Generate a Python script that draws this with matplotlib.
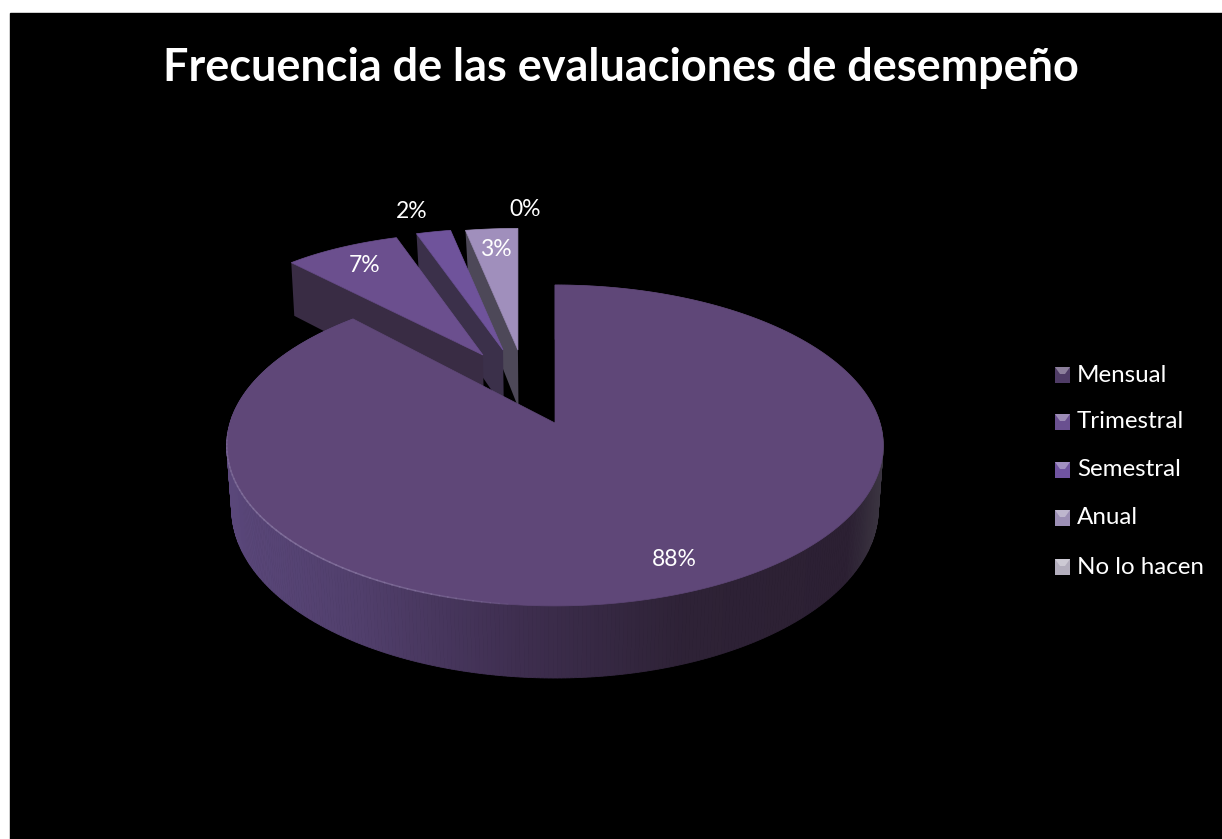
import matplotlib

matplotlib.use("Agg")
import matplotlib.pyplot as plt
import numpy as np
from matplotlib.colors import LinearSegmentedColormap
from matplotlib.patches import Polygon, Rectangle

plt.rcParams["font.family"] = ["Lato", "DejaVu Sans"]

TITLE = "Frecuencia de las evaluaciones de desempeño"
categories = ["Mensual", "Trimestral", "Semestral", "Anual", "No lo hacen"]
values = [88, 7, 2, 3, 0]
value_labels = ["88%", "7%", "2%", "3%", "0%"]

top_colors = ["#5f4778", "#6b4f8e", "#6f539b", "#a08fbc", "#b3aebd"]
cut_colors = ["#3a2d45", "#392c44", "#3b304a", "#4d4858", "#4d4858"]
legend_colors = ["#4f3c66", "#6a5090", "#7054a0", "#9c8fb5", "#b3aebd"]

# pie plane -> pixels, with a little perspective so the back of the disc shrinks
CX, CY = 555, 423
RX, RY = 325, 157.3
SLICE_RX = 280
PERSPECTIVE = 0.14
DEPTH = 62

# how far each slice is pulled out of the pie, in pie radii
offsets = [(0, 0), (-0.236, 0.46), (-0.171, 0.496), (-0.122, 0.496), (-0.122, 0.496)]
label_pos = [(674, 559), (365, 265), (412, 212), (496, 249), (525, 209)]

side_cmap = LinearSegmentedColormap.from_list(
    "side",
    [
        (0.0, "#5a477a"),
        (0.2, "#513f6c"),
        (0.45, "#3e2e4f"),
        (0.7, "#2e2236"),
        (0.95, "#2c2033"),
        (1.0, "#3a3440"),
    ],
)


def project(u, v, down=False):
    """map pie-plane coordinates to pixels, optionally on the lower rim"""
    s = 1 / (1 + PERSPECTIVE * v)
    x = CX + RX * u * s
    y = CY - RY * v * s
    if down:
        x = CX + (x - CX) * 0.985
        y = y + DEPTH * s
    return x, y


def arc(start, stop, down=False, n=500):
    """rim of the pie between two clockwise fractions of the circle"""
    a = 2 * np.pi * np.linspace(start, stop, n)
    return project(np.sin(a), np.cos(a), down)


def slice_rim(start, stop, offset, n=60):
    """rim of an exploded slice, its width measured from the slice's own tip"""
    a = 2 * np.pi * np.linspace(start, stop, n)
    tip_x, _ = project(*offset)
    _, y = project(np.sin(a) + offset[0], np.cos(a) + offset[1])
    return tip_x + SLICE_RX * np.sin(a), y


fig = plt.figure(figsize=(12.22, 8.39), dpi=100, facecolor="white")
ax = fig.add_axes([0, 0, 1, 1])
ax.set_xlim(0, 1222)
ax.set_ylim(839, 0)
ax.axis("off")
ax.add_patch(Rectangle((10, 13), 1212, 826, color="black", zorder=0))

total = sum(values)
edges = np.cumsum([0] + values) / total

# the exploded slices go back to front, Mensual covers all of them at the end
for i in [3, 2, 1]:
    x, y = slice_rim(edges[i], edges[i + 1], offsets[i])
    tip = project(*offsets[i])
    tip_low = project(*offsets[i], True)
    s = 1 / (1 + PERSPECTIVE * (np.cos(2 * np.pi * edges[i]) + offsets[i][1]))
    ax.add_patch(
        Polygon(
            [(x[0], y[0]), tip, tip_low, (x[0] + 3, y[0] + DEPTH * s)],
            color=cut_colors[i],
            lw=0,
            zorder=5 - i,
        )
    )
    ax.add_patch(
        Polygon([tip] + list(zip(x, y)), color=top_colors[i], lw=0.5, zorder=5 - i)
    )

# outer wall of Mensual, shaded strip by strip
x_top, y_top = arc(edges[0], edges[1])
x_low, y_low = arc(edges[0], edges[1], True)
for k in range(len(x_top) - 1):
    shade = (x_top[k] - x_top.min()) / (x_top.max() - x_top.min())
    ax.add_patch(
        Polygon(
            [
                (x_top[k], y_top[k]),
                (x_top[k + 1], y_top[k + 1]),
                (x_low[k + 1], y_low[k + 1]),
                (x_low[k], y_low[k]),
            ],
            color=side_cmap(shade),
            lw=0.6,
            zorder=6,
        )
    )

ax.add_patch(
    Polygon(
        [(CX, CY)] + list(zip(x_top, y_top)), color=top_colors[0], lw=0.5, zorder=7
    )
)

# thin light edge where the top of Mensual meets its wall, fading to the right
x_hi, y_hi = arc(0.52, 0.74, n=60)
for k in range(len(x_hi) - 1):
    fade = 0.8 * np.sin(np.pi * (k + 1) / len(x_hi)) ** 0.5
    ax.plot(
        x_hi[k : k + 2], y_hi[k : k + 2], color="#85749f", lw=1.1, alpha=fade, zorder=8
    )

for (x, y), label in zip(label_pos, value_labels):
    ax.text(
        x, y, label, color="white", fontsize=16.5, ha="center", va="center", zorder=10
    )

# legend
legend_y = [375, 422, 470, 518, 567]
for y, name, color in zip(legend_y, categories, legend_colors):
    ax.add_patch(Rectangle((1055, y - 8), 15, 16, color=color, lw=0, zorder=9))
    ax.add_patch(
        Polygon(
            [(1055, y - 8), (1070, y - 8), (1065, y - 1), (1060, y - 1)],
            color="white",
            alpha=0.35,
            lw=0,
            zorder=9,
        )
    )
    ax.text(1077, y, name, color="white", fontsize=17.4, va="center", zorder=10)

ax.text(
    621,
    68,
    TITLE,
    color="white",
    fontsize=32.4,
    fontweight="bold",
    ha="center",
    va="center",
    zorder=10,
)

fig.savefig("out.png", dpi=100, facecolor="white")
